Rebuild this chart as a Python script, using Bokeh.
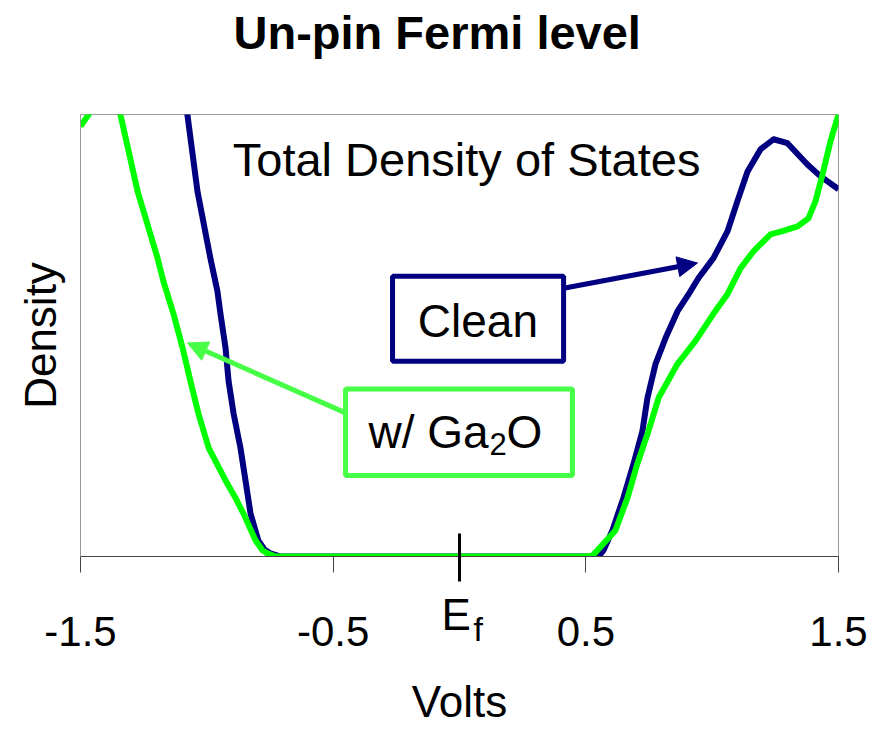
from bokeh.plotting import figure
from bokeh.models import Range1d, FixedTicker, Label, Arrow, NormalHead, BoxAnnotation, Title
from bokeh.embed import file_html
from bokeh.resources import INLINE

FONT = "Liberation Sans"

# ---- data (Volts, relative density 0..100) ----
clean_v = [-1.104, -1.077, -1.037, -0.986, -0.958, -0.946, -0.926, -0.914, -0.894, -0.867,
           -0.847, -0.827, -0.796, -0.772, -0.748, -0.708, -0.5, 0.0, 0.5, 0.550, 0.570,
           0.605, 0.649, 0.689, 0.724, 0.744, 0.776, 0.819, 0.863, 0.914, 0.946, 1.005,
           1.061, 1.100, 1.140, 1.191, 1.243, 1.298, 1.377, 1.429, 1.500]
clean_d = [112.0, 100.0, 82.6, 67.5, 60.0, 54.9, 47.2, 39.7, 32.3, 24.6,
           17.2, 9.7, 3.6, 1.6, 0.7, 0.0, 0.0, 0.0, 0.0, 0.0, 1.4,
           5.9, 13.3, 21.0, 28.4, 35.9, 43.6, 49.9, 55.5, 60.0, 63.0, 67.5,
           73.6, 80.4, 87.1, 92.1, 94.4, 93.5, 88.7, 86.0, 83.1]

ga2o_v = [-1.500, -1.468, -1.410, -1.342, -1.274, -1.195, -1.172, -1.132, -1.096, -1.065,
          -1.033, -0.993, -0.926, -0.887, -0.855, -0.807, -0.780, -0.760, -0.728, 0.0,
          0.499, 0.526, 0.546, 0.617, 0.665, 0.704, 0.748, 0.788, 0.863, 0.934, 1.005,
          1.061, 1.112, 1.164, 1.231, 1.278, 1.338, 1.381, 1.409, 1.437, 1.468, 1.500]
ga2o_d = [97.3, 100.0, 106.0, 100.0, 82.6, 67.5, 62.3, 54.9, 47.2, 39.7,
          32.3, 24.6, 17.2, 13.3, 9.7, 3.6, 1.4, 0.7, 0.0, 0.0,
          0.0, 0.2, 1.4, 5.9, 13.3, 21.0, 28.4, 35.9, 43.6, 48.8, 54.9,
          59.4, 65.2, 69.1, 72.9, 73.6, 74.7, 76.5, 80.4, 86.5, 93.9, 100.0]

x_ticks = [-1.5, -0.5, 0.5, 1.5]
x_tick_labels = ["-1.5", "-0.5", "0.5", "1.5"]
fermi_v = 0.0

title_text = "Un-pin Fermi level"
inner_title = "Total Density of States"
x_label = "Volts"
y_label = "Density"

NAVY = "#000080"
GREEN = "#00FF00"
LGREEN = "#47FF47"

p = figure(width=882, height=730, output_backend="svg", toolbar_location=None,
           x_range=Range1d(-1.5, 1.5), y_range=Range1d(0, 100),
           min_border_left=80, min_border_right=44, min_border_top=113,
           min_border_bottom=174)
p.grid.visible = False
p.outline_line_color = "#999999"
p.background_fill_color = "white"
p.border_fill_color = "white"

# spacer between frame and the title (nearest to the frame)
p.add_layout(Title(text=" ", text_font_size="2px", standoff=49), "above")
p.title.text = title_text
p.title.text_font = FONT
p.title.text_font_size = "47px"
p.title.text_font_style = "bold"
p.title.text_color = "black"
p.title.align = "left"
p.title.offset = 153
p.title.standoff = 6

xa = p.xaxis[0]
xa.ticker = FixedTicker(ticks=x_ticks, minor_ticks=[fermi_v])
xa.major_label_overrides = {t: s for t, s in zip(x_ticks, x_tick_labels)}
xa.major_tick_in = 0
xa.major_tick_out = 16
xa.major_tick_line_color = "#444444"
xa.minor_tick_line_color = "black"
xa.minor_tick_line_width = 3
xa.minor_tick_in = 23
xa.minor_tick_out = 25
xa.axis_line_color = "#444444"
xa.major_label_text_font = FONT
xa.major_label_text_font_size = "42px"
xa.major_label_text_color = "black"
xa.major_label_standoff = 35
xa.axis_label = x_label
xa.axis_label_text_font = FONT
xa.axis_label_text_font_size = "44px"
xa.axis_label_text_font_style = "normal"
xa.axis_label_text_color = "black"
xa.axis_label_standoff = 28

# E_f label under the Fermi-level tick (negative standoff pulls it up under the tick)
p.add_layout(Title(text="f", text_font=FONT, text_font_size="34px", text_font_style="normal",
                   text_color="black", align="left", offset=393, vertical_align="top",
                   standoff=-238), "below")
p.add_layout(Title(text="E", text_font=FONT, text_font_size="44px", text_font_style="normal",
                   text_color="black", align="left", offset=361, vertical_align="top",
                   standoff=-278), "below")

ya = p.yaxis[0]
ya.ticker = FixedTicker(ticks=[])
ya.minor_tick_line_color = None
ya.major_tick_line_color = None
ya.axis_line_color = "#999999"
ya.axis_label = y_label
ya.axis_label_text_font = FONT
ya.axis_label_text_font_size = "44px"
ya.axis_label_text_font_style = "normal"
ya.axis_label_text_color = "black"
ya.axis_label_standoff = 16

p.line(clean_v, clean_d, line_color=NAVY, line_width=6, line_join="round")
p.line(ga2o_v, ga2o_d, line_color=GREEN, line_width=6, line_join="round")

p.add_layout(Label(x=0.028, y=89.8, text=inner_title, text_font=FONT, text_font_size="47px",
                   text_color="black", text_align="center", text_baseline="alphabetic"))

# Clean callout
p.add_layout(BoxAnnotation(left=-0.265, right=0.412, top=63.4, bottom=44.2,
                           fill_color=None, line_color=NAVY, line_alpha=1.0, line_width=5))
p.add_layout(Label(x=0.073, y=53.2, text="Clean", text_font=FONT, text_font_size="46px",
                   text_color="black", text_align="center", text_baseline="alphabetic"))
p.add_layout(Arrow(end=NormalHead(size=20, fill_color=NAVY, line_color=NAVY),
                   x_start=0.412, y_start=60.7, x_end=0.942, y_end=66.4,
                   line_color=NAVY, line_width=5))

# Ga2O callout
p.add_layout(BoxAnnotation(left=-0.451, right=0.447, top=37.9, bottom=18.3,
                           fill_color=None, line_color=LGREEN, line_alpha=1.0, line_width=5))
p.add_layout(Label(x=-0.360, y=28.2, text="w/ Ga", text_font=FONT, text_font_size="46px",
                   text_color="black", text_align="left", text_baseline="alphabetic"))
p.add_layout(Label(x=0.119, y=25.5, text="2", text_font=FONT, text_font_size="31px",
                   text_color="black", text_align="left", text_baseline="alphabetic"))
p.add_layout(Label(x=0.186, y=28.2, text="O", text_font=FONT, text_font_size="46px",
                   text_color="black", text_align="left", text_baseline="alphabetic"))
p.add_layout(Arrow(end=NormalHead(size=20, fill_color=LGREEN, line_color=LGREEN),
                   x_start=-0.451, y_start=32.5, x_end=-1.077, y_end=48.3,
                   line_color=LGREEN, line_width=5))

open("out.html", "w").write(file_html(p, INLINE))
